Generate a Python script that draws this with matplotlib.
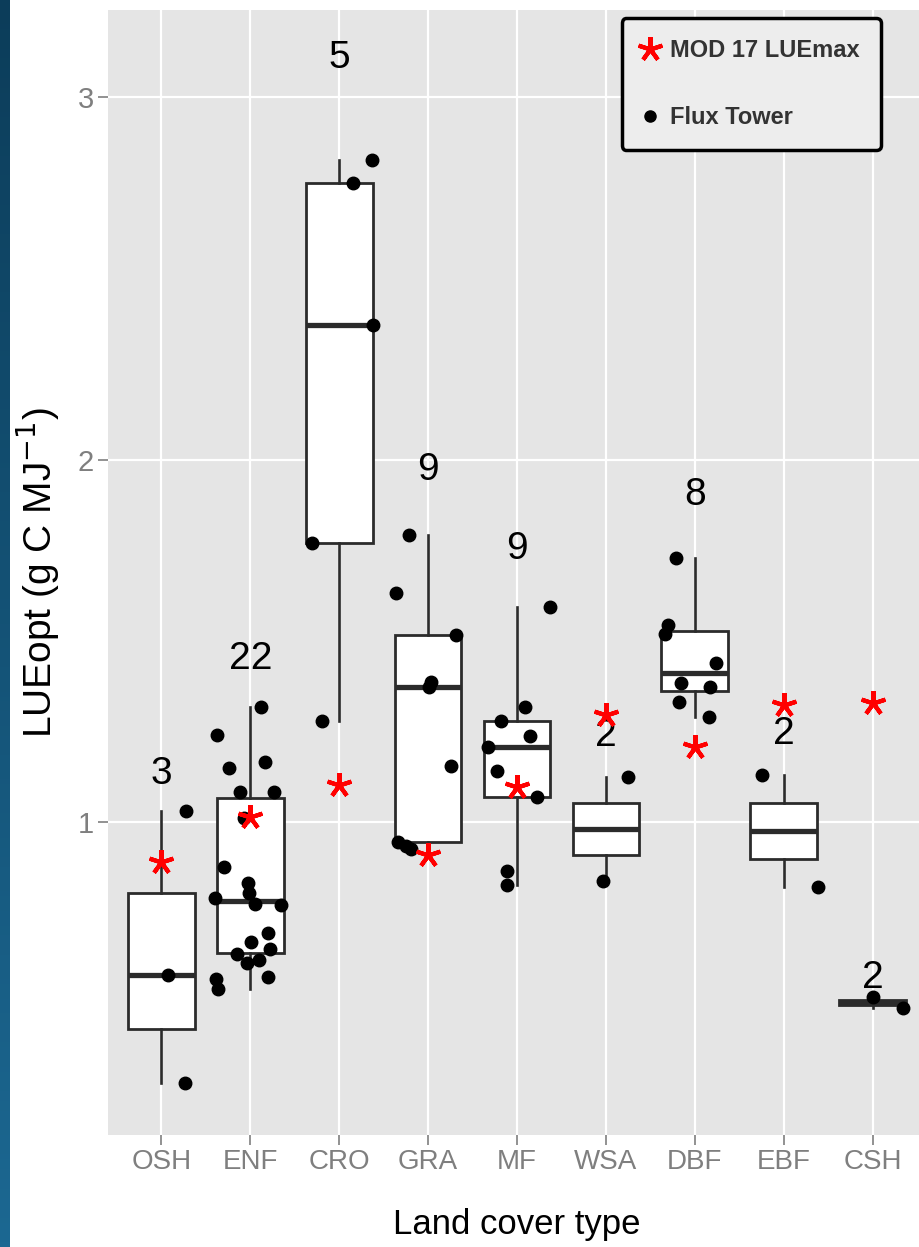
import matplotlib
matplotlib.use('Agg')
import matplotlib.pyplot as plt
import numpy as np
from matplotlib.lines import Line2D

# land cover classes, in plot order
categories = ['OSH', 'ENF', 'CRO', 'GRA', 'MF', 'WSA', 'DBF', 'EBF', 'CSH']

# flux tower LUEopt values per class (g C MJ-1)
osh = [0.28, 0.578, 1.03]
enf = [1.317, 1.24, 1.166, 1.149, 1.083, 1.083, 1.011, 0.876, 0.832, 0.804, 0.79,
       0.771, 0.694, 0.669, 0.649, 0.636, 0.619, 0.611, 0.572, 0.567, 0.539, 0.775]
cro = [2.826, 2.763, 2.371, 1.77, 1.279]
gra = [1.792, 1.632, 1.516, 1.385, 1.372, 1.154, 0.945, 0.935, 0.925]
mf = [1.593, 1.317, 1.279, 1.237, 1.207, 1.141, 1.069, 0.865, 0.826]
wsa = [1.124, 0.837]
dbf = [1.728, 1.543, 1.52, 1.438, 1.384, 1.373, 1.331, 1.29]
ebf = [1.13, 0.82]
csh = [0.517, 0.487]
tower = [osh, enf, cro, gra, mf, wsa, dbf, ebf, csh]

# horizontal jitter of each tower point (category units)
jitter = [
    [0.27, 0.07, 0.28],
    [0.12, -0.37, 0.17, -0.24, -0.12, 0.27, -0.07, -0.29, -0.03, -0.01, -0.40,
     0.35, 0.20, 0.01, 0.22, -0.15, 0.10, -0.04, 0.20, -0.39, -0.36, 0.05],
    [0.37, 0.15, 0.38, -0.31, -0.19],
    [-0.22, -0.36, 0.31, 0.03, 0.01, 0.26, -0.34, -0.25, -0.19],
    [0.37, 0.09, -0.18, 0.15, -0.33, -0.22, 0.22, -0.11, -0.11],
    [0.25, -0.03],
    [-0.21, -0.30, -0.33, 0.24, -0.15, 0.17, -0.18, 0.16],
    [-0.25, 0.39],
    [0.0, 0.34],
]

# MOD17 LUEmax per class
mod17 = [0.89, 1.014, 1.102, 0.909, 1.097, 1.295, 1.207, 1.323, 1.328]

fam = ['Liberation Sans', 'DejaVu Sans']
plt.rcParams['font.family'] = fam

W, H = 919, 1247
fig = plt.figure(figsize=(W / 100, H / 100), dpi=100)
fig.patch.set_facecolor('white')

# dark blue strip on the left edge
strip = fig.add_axes([0, 0, 10 / W, 1])
grad = np.linspace(0, 1, 256).reshape(-1, 1)
strip.imshow(grad, aspect='auto', cmap=matplotlib.colors.LinearSegmentedColormap.from_list(
    'edge', ['#1c6892', '#0c3d5a']), origin='lower')
strip.set_axis_off()

# panel: x 0.4..9.6 spans px 108..926, y px 1135..10
ax = fig.add_axes([108 / W, (H - 1135) / H, 818 / W, 1125 / H])
ax.set_facecolor('#E5E5E5')
for s in ax.spines.values():
    s.set_visible(False)

pos = np.arange(1, len(categories) + 1)

ax.boxplot(tower, positions=pos, widths=0.75, whis=1.5, showfliers=False,
           showcaps=False, patch_artist=True,
           boxprops=dict(facecolor='white', edgecolor='#2b2b2b', linewidth=2.0),
           medianprops=dict(color='#2b2b2b', linewidth=3.8),
           whiskerprops=dict(color='#2b2b2b', linewidth=1.9),
           zorder=2)

for i, (vals, jit) in enumerate(zip(tower, jitter)):
    ax.plot(pos[i] + np.array(jit), vals, 'o', color='black', markersize=9,
            linestyle='none', zorder=3)
    ax.text(pos[i], 1.1 * max(vals), str(len(vals)), ha='center', va='center',
            fontsize=28, color='black', zorder=4)

ax.plot(pos, mod17, linestyle='none', marker=(5, 2, 0), color='red',
        markersize=18, markeredgewidth=3, zorder=5)

ax.set_xlim(0.4, 9.6)
ax.set_ylim(0.1366, 3.24)
ax.set_xticks(pos)
ax.set_xticklabels(categories)
ax.set_yticks([1, 2, 3])
ax.set_yticklabels(['1', '2', '3'])
ax.grid(which='major', color='white', linewidth=1.6, zorder=0)
ax.set_axisbelow(True)
ax.tick_params(axis='both', which='major', color='#7F7F7F', length=7, width=1.2,
               labelcolor='#7F7F7F', pad=3)
ax.tick_params(axis='x', labelsize=20)
ax.tick_params(axis='y', labelsize=21)

ax.set_xlabel('Land cover type', fontsize=25, labelpad=24)
ax.set_ylabel('LUEopt (g C MJ$^{-1}$)', fontsize=28, labelpad=12)

handles = [
    Line2D([], [], linestyle='none', marker=(5, 2, 0), color='red',
           markersize=18, markeredgewidth=3),
    Line2D([], [], linestyle='none', marker='o', color='black', markersize=8),
]
leg = ax.legend(handles, ['MOD 17 LUEmax', 'Flux Tower'], loc='upper left',
                bbox_to_anchor=(0.628, 0.993), borderaxespad=0, frameon=True,
                fancybox=True, handlelength=0.6, handletextpad=0.55, borderpad=0.9,
                labelspacing=1.85, prop=dict(weight='bold', size=17))
leg.get_frame().set_edgecolor('black')
leg.get_frame().set_linewidth(2.5)
leg.get_frame().set_facecolor('#EDEDED')
leg.get_frame().set_alpha(1)
for t in leg.get_texts():
    t.set_color('#333333')

fig.savefig('out.png', dpi=100)
